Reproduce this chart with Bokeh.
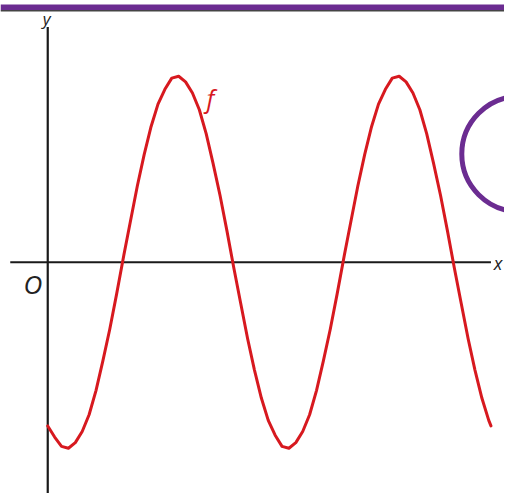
from bokeh.plotting import figure
from bokeh.embed import file_html
from bokeh.resources import INLINE
from bokeh.core.properties import value

# --- data (x in quarter-periods, y in amplitude units) ---
curve_x = [0.0, 0.125, 0.25, 0.375, 0.5, 0.625, 0.75, 0.875,
           1.0, 1.125, 1.25, 1.375, 1.5, 1.625, 1.75, 1.875,
           2.0, 2.125, 2.25, 2.375, 2.5, 2.625, 2.75, 2.875,
           3.0, 3.125, 3.25, 3.375, 3.5, 3.625, 3.75, 3.875,
           4.0, 4.125, 4.25, 4.375, 4.5, 4.625, 4.75, 4.875,
           5.0, 5.125, 5.25, 5.375, 5.5, 5.625, 5.75, 5.875,
           6.0, 6.125, 6.25, 6.375, 6.5, 6.625, 6.75, 6.875,
           7.0, 7.125, 7.25, 7.375, 7.5, 7.625, 7.75, 7.875,
           8.0, 8.04]
curve_y = [-0.88, -0.94, -0.99, -1.00, -0.97, -0.91, -0.82, -0.69,
           -0.53, -0.36, -0.17, 0.03, 0.22, 0.41, 0.58, 0.73,
           0.85, 0.93, 0.99, 1.00, 0.97, 0.91, 0.82, 0.69,
           0.53, 0.36, 0.17, -0.03, -0.22, -0.41, -0.58, -0.73,
           -0.85, -0.93, -0.99, -1.00, -0.97, -0.91, -0.82, -0.69,
           -0.53, -0.36, -0.17, 0.03, 0.22, 0.41, 0.58, 0.73,
           0.85, 0.93, 0.99, 1.00, 0.97, 0.91, 0.82, 0.69,
           0.53, 0.36, 0.17, -0.03, -0.22, -0.41, -0.58, -0.73,
           -0.85, -0.88]

axis_x_extent = [-0.68, 8.04]     # horizontal axis line (at y = 0)
axis_y_extent = [-1.26, 1.265]    # vertical axis line (at x = 0)

label_text = ["y", "x", "O", "f"]
label_x = [-0.02, 8.17, -0.27, 2.95]
label_y = [1.31, -0.005, -0.116, 0.884]
label_size = ["17px", "18px", "26px", "25px"]
label_color = ["#222222", "#222222", "#222222", "#d7191f"]

circle_x = [8.554]
circle_y = [0.582]

banner_y = [1.3545, 1.3862]      # purple band at top
banner_rule_y = 1.3519

X_RANGE = (-0.857, 8.2857)
Y_RANGE = (-1.2434, 1.4074)

RED = "#d7191f"
PURPLE = "#6b2c91"
INK = "#1a1a1a"

p = figure(width=504, height=493,
           x_range=X_RANGE, y_range=Y_RANGE,
           toolbar_location=None, output_backend="svg",
           x_axis_location=None, y_axis_location=None,
           min_border=0)
p.grid.visible = False
p.outline_line_color = None
p.background_fill_color = "white"
p.border_fill_color = "white"

# axes
p.segment(x0=[axis_x_extent[0]], y0=[0], x1=[axis_x_extent[1]], y1=[0],
          line_color=INK, line_width=2)
p.segment(x0=[0], y0=[axis_y_extent[0]], x1=[0], y1=[axis_y_extent[1]],
          line_color=INK, line_width=2.2)

# curve
p.line(curve_x, curve_y, line_color=RED, line_width=3,
       line_join="round", line_cap="round")

# labels
p.text(x=label_x, y=label_y, text=label_text,
       text_font=value("Open Sans"), text_font_style="italic",
       text_font_size=label_size, text_color=label_color,
       text_align="center", text_baseline="middle")

# purple circle at right
p.scatter(x=circle_x, y=circle_y, marker="circle", size=115,
          fill_color=None, line_color=PURPLE, line_width=5)

# purple banner at top
p.quad(left=[X_RANGE[0]], right=[X_RANGE[1]], bottom=[banner_y[0]], top=[banner_y[1]],
       fill_color=PURPLE, line_color=None)
p.segment(x0=[X_RANGE[0]], y0=[banner_rule_y], x1=[X_RANGE[1]], y1=[banner_rule_y],
          line_color="#444444", line_width=1.5)

open("out.html", "w").write(file_html(p, INLINE))
